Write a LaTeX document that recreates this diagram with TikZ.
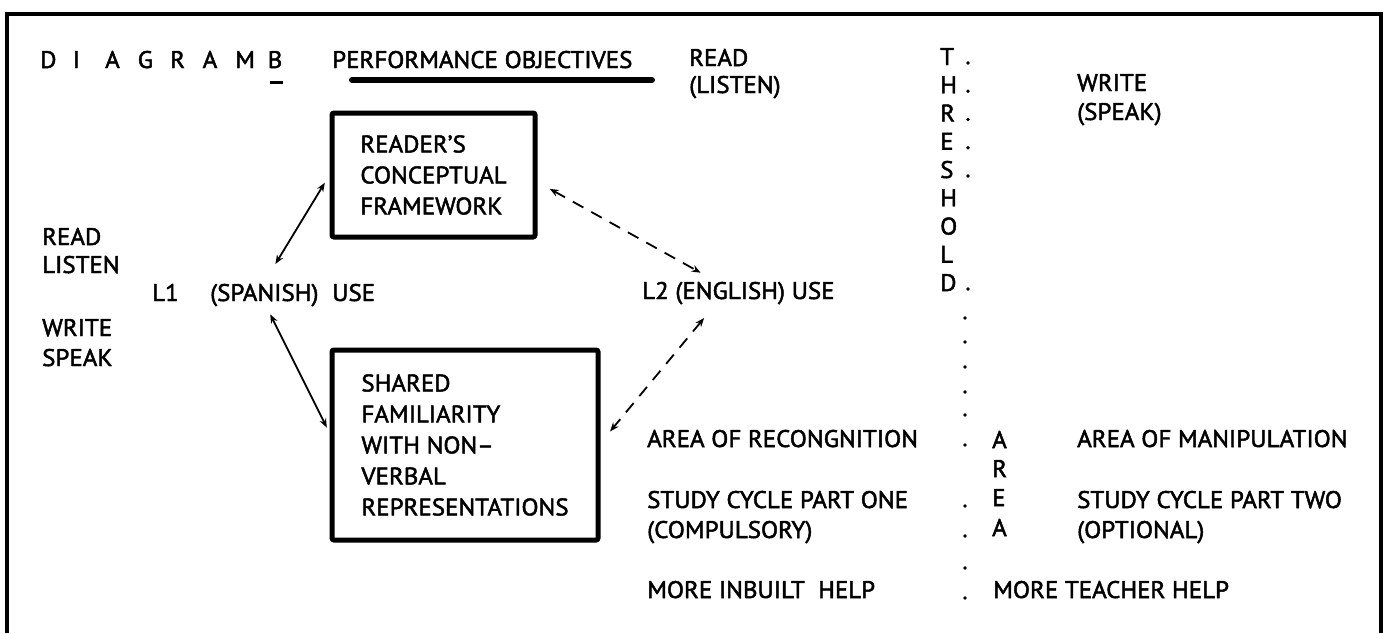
\documentclass[tikz,border=0pt]{standalone}
\usepackage{fontspec}
\setmainfont[FakeBold=2, FakeStretch=1.04]{PT Sans}
\usetikzlibrary{arrows.meta}
\begin{document}
\begin{tikzpicture}[x=1pt,y=-1pt,
  txt/.style={anchor=base west, inner sep=0pt, font=\fontsize{24}{31}\selectfont},
  boxed/.style={draw, line width=5pt, rounded corners=2pt, align=left, inner sep=0pt, font=\fontsize{24}{31}\selectfont},
  link/.style={{Stealth[length=9pt,width=7pt]}-{Stealth[length=9pt,width=7pt]}, line width=1.8pt}]
\useasboundingbox (0,0) rectangle (1387,633);
% frame
\draw[line width=4pt] (7,633) -- (7,14) -- (1381,14) -- (1381,633);
% heading
\foreach \c [count=\i] in {D,I,A,G,R,A,M,B}
  \node[txt] (h\i) at ({40+(\i-1)*32.5},68) {\c};
\draw[line width=3pt] (270,82) -- (283,82);
\node[txt] (perf) at (332,68) {PERFORMANCE OBJECTIVES};
\draw[line width=6pt, line cap=round] (352,80) -- (652,80);
\node[txt] (rd) at (689,66) {READ};
\node[txt] (ls) at (689,93) {(LISTEN)};
\node[txt] (wr) at (1077,91) {WRITE};
\node[txt] (sp) at (1077,120) {(SPEAK)};
% threshold
\foreach \c [count=\i] in {T,H,R,E,S,H,O,L,D}
  \node[txt] (th\i) at (940,{65+(\i-1)*28.25}) {\c};
\foreach \i in {1,...,5,9}
  \fill ({968},{63+(\i-1)*28.25}) circle (1.9);
\foreach \y in {318,342,367,392,415,445,506,536,568,598}
  \fill (965,\y) circle (1.9);
\foreach \c/\y [count=\i] in {A/448,R/477,E/506,A/536}
  \node[txt] (ar\i) at (992,\y) {\c};
% left side
\node[txt] (lr) at (42,245) {READ};
\node[txt] (ll) at (42,273) {LISTEN};
\node[txt] (lw) at (42,336) {WRITE};
\node[txt] (lsp) at (42,366) {SPEAK};
\node[txt] (l1) at (152,301) {L1};
\node[txt] (spn) at (210,301) {(SPANISH)};
\node[txt] (use) at (332,301) {USE};
\node[txt] (l2) at (642,299) {L2 (ENGLISH) USE};
% boxes
\node[boxed, minimum width=203, minimum height=124] (rcf) at (433.5,175) {READER'S\\CONCEPTUAL\\FRAMEWORK};
\node[boxed, minimum width=266, minimum height=190] (sfm) at (465,445) {SHARED\\FAMILIARITY\\WITH NON--\\VERBAL\\REPRESENTATIONS};
% arrows
\draw[link, shorten <=2pt, shorten >=9pt] ([xshift=10pt,yshift=18pt]spn.north) -- (rcf.west);
\draw[link, shorten <=2pt, shorten >=6pt] ([xshift=5pt,yshift=-6pt]spn.south) -- ([yshift=12pt]sfm.west);
\draw[link, dashed, dash pattern=on 12pt off 9pt, shorten <=14pt, shorten >=2pt] ([yshift=-7pt]rcf.east) -- ([xshift=-36pt,yshift=8pt]l2.north);
\draw[link, dashed, dash pattern=on 12pt off 9pt, shorten <=2pt, shorten >=15pt] ([xshift=-33pt,yshift=-12pt]l2.south) -- ([yshift=2pt]sfm.east);
% right side
\node[txt] (rec) at (647,447) {AREA OF RECONGNITION};
\node[txt] (sc1) at (647,508) {STUDY CYCLE PART ONE};
\node[txt] (cmp) at (647,538) {(COMPULSORY)};
\node[txt] (mih) at (647,598) {MORE INBUILT\ \ HELP};
\node[txt] (man) at (1077,447) {AREA OF MANIPULATION};
\node[txt] (sc2) at (1077,508) {STUDY CYCLE PART TWO};
\node[txt] (opt) at (1077,538) {(OPTIONAL)};
\node[txt] (mth) at (993,598) {MORE TEACHER HELP};
\end{tikzpicture}
\end{document}
